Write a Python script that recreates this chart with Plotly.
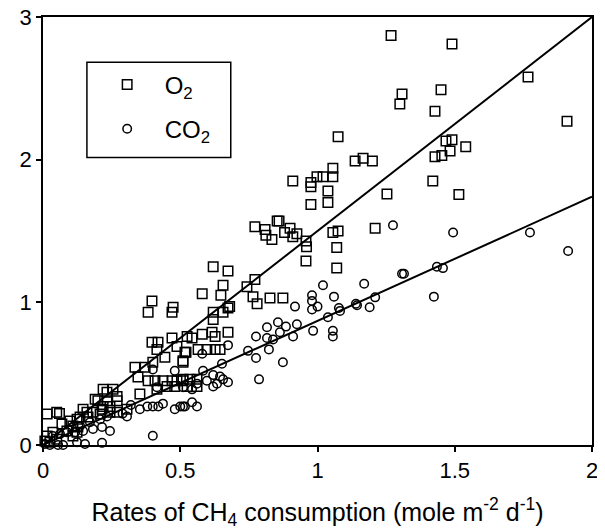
import plotly.graph_objects as go

# O2 (squares): x = CH4 consumption, y = O2 rate
o2_x = [1.268, 1.308, 1.30, 1.45, 1.428, 1.49, 1.767, 1.909,
        1.075, 1.137, 1.166, 1.20, 1.428, 1.468, 1.49, 1.54, 1.483, 1.453,
        1.42, 1.515,
        0.91, 0.976, 0.998, 1.02, 1.056, 1.056, 0.976, 1.038, 1.253,
        0.976, 1.038, 0.772, 0.853, 0.86, 0.809, 0.812, 0.834, 0.88, 0.90, 0.91, 0.925, 0.958, 0.96,
        1.056, 1.075, 1.21, 1.07, 0.958, 1.07,
        0.772, 0.743, 0.765, 0.78, 0.827, 0.874,
        0.62, 0.674, 0.656, 0.58, 0.648, 0.397, 0.474, 0.68, 0.383, 0.47,
        0.674, 0.62, 0.62, 0.656,
        0.58, 0.616, 0.627, 0.674, 0.543, 0.517, 0.565, 0.597, 0.627, 0.645, 0.51, 0.51, 0.535, 0.561, 0.561,
        0.397, 0.419, 0.415, 0.47, 0.444, 0.488, 0.521, 0.51, 0.525,
        0.335, 0.346, 0.372, 0.40,
        0.383, 0.408, 0.437, 0.47, 0.488, 0.51, 0.525, 0.415, 0.452, 0.48,
        0.353, 0.219, 0.233, 0.27, 0.255,
        0.19, 0.20, 0.233, 0.27, 0.219, 0.244,
        0.146, 0.16, 0.135, 0.164, 0.182, 0.208, 0.215, 0.244, 0.27, 0.306,
        0.015, 0.05, 0.06,
        0.069, 0.098, 0.109, 0.124, 0.127,
        0.015, 0.036, 0.05, 0.007, 0.025, 0.087, 0.109, 0.124]
o2_y = [2.87, 2.46, 2.39, 2.49, 2.34, 2.81, 2.58, 2.27,
        2.16, 1.99, 2.01, 1.99, 2.02, 2.13, 2.14, 2.09, 2.06, 2.03,
        1.85, 1.755,
        1.85, 1.84, 1.88, 1.88, 1.94, 1.88, 1.81, 1.78, 1.76,
        1.685, 1.70, 1.53, 1.57, 1.57, 1.51, 1.47, 1.44, 1.49, 1.52, 1.46, 1.48, 1.43, 1.39,
        1.49, 1.50, 1.52, 1.385, 1.29, 1.24,
        1.16, 1.11, 1.04, 0.99, 1.03, 1.03,
        1.25, 1.22, 1.12, 1.06, 1.05, 1.01, 0.965, 0.97, 0.93, 0.93,
        0.96, 0.93, 0.88, 0.93,
        0.776, 0.79, 0.76, 0.79, 0.75, 0.65, 0.67, 0.67, 0.67, 0.67, 0.58, 0.46, 0.46, 0.46, 0.41,
        0.72, 0.72, 0.67, 0.75, 0.615, 0.69, 0.65, 0.59, 0.76,
        0.545, 0.476, 0.545, 0.58,
        0.45, 0.45, 0.45, 0.45, 0.45, 0.45, 0.41, 0.39, 0.41, 0.41,
        0.357, 0.39, 0.37, 0.34, 0.39,
        0.32, 0.31, 0.31, 0.31, 0.27, 0.27,
        0.25, 0.23, 0.196, 0.196, 0.23, 0.217, 0.25, 0.23, 0.23, 0.25,
        0.217, 0.23, 0.22,
        0.147, 0.168, 0.133, 0.18, 0.126,
        0.063, 0.09, 0.04, 0.028, 0.02, 0.098, 0.063, 0.09]

# CO2 (circles)
co2_x = [1.494, 1.774, 1.913, 1.435, 1.457, 1.424,
         1.275, 1.308, 1.315, 1.02, 1.17, 1.06, 1.21, 0.98, 0.98, 0.918, 1.0, 1.078, 1.14, 1.19,
         0.98, 1.038, 1.082, 1.144, 1.056, 1.056,
         0.816, 0.856, 0.885, 0.925, 0.776, 0.816, 0.838, 0.863, 0.911, 0.984, 0.747, 0.823, 0.776,
         0.874, 0.787, 0.674, 0.652, 0.583, 0.62, 0.645, 0.656, 0.674, 0.62, 0.634, 0.597, 0.561,
         0.543, 0.51, 0.543, 0.561, 0.51, 0.58,
         0.40, 0.215,
         0.153, 0.124, 0.073, 0.055, 0.025, 0.007,
         0.244, 0.215, 0.182, 0.146, 0.117, 0.087, 0.062, 0.036,
         0.353, 0.38, 0.40, 0.42, 0.437, 0.48, 0.50, 0.517, 0.48, 0.40, 0.415, 0.306,
         0.233, 0.208, 0.171, 0.135, 0.29, 0.32]
co2_y = [1.49, 1.49, 1.36, 1.25, 1.24, 1.04,
         1.54, 1.20, 1.20, 1.12, 1.13, 1.04, 1.035, 1.05, 1.01, 0.97, 0.97, 0.96, 0.99, 0.965,
         0.95, 0.895, 0.94, 0.98, 0.80, 0.76,
         0.825, 0.86, 0.83, 0.846, 0.76, 0.75, 0.74, 0.79, 0.76, 0.80, 0.66, 0.67, 0.61,
         0.58, 0.46, 0.70, 0.57, 0.52, 0.49, 0.48, 0.46, 0.44, 0.41, 0.43, 0.45, 0.43,
         0.39, 0.405, 0.30, 0.27, 0.27, 0.64,
         0.065, 0.015,
         0.007, 0.02, 0.0, 0.0, 0.0, 0.007,
         0.098, 0.126, 0.112, 0.098, 0.09, 0.09, 0.077, 0.063,
         0.25, 0.27, 0.27, 0.27, 0.29, 0.25, 0.27, 0.27, 0.52, 0.53, 0.405, 0.20,
         0.20, 0.18, 0.16, 0.133, 0.22, 0.28]

# Fitted regression lines (end points)
fit_x = [0.0, 2.0]
o2_fit = [0.0, 3.0]
co2_fit = [0.0, 1.74]

FONT = "Liberation Sans, Arial, Helvetica, sans-serif"

fig = go.Figure()
fig.add_trace(go.Scatter(x=fit_x, y=o2_fit, mode="lines",
                         line=dict(color="black", width=2), showlegend=False))
fig.add_trace(go.Scatter(x=fit_x, y=co2_fit, mode="lines",
                         line=dict(color="black", width=2), showlegend=False))
fig.add_trace(go.Scatter(x=o2_x, y=o2_y, mode="markers", name="O<sub>2</sub>",
                         legendgroup="o2",
                         marker=dict(symbol="square-open", size=9.5, color="black",
                                     line=dict(width=1.5, color="black")),
                         cliponaxis=False))
fig.add_trace(go.Scatter(x=co2_x, y=co2_y, mode="markers", name="CO<sub>2</sub>",
                         legendgroup="co2",
                         marker=dict(symbol="circle-open", size=8.5, color="black",
                                     line=dict(width=1.5, color="black")),
                         cliponaxis=False))

axis_common = dict(showgrid=False, zeroline=False, showline=True, linecolor="black",
                   linewidth=1.5, mirror=True, ticks="outside", ticklen=5,
                   tickwidth=1.5, tickcolor="black", automargin=False,
                   ticklabeloverflow="allow",
                   tickfont=dict(family=FONT, size=22, color="black"))

fig.update_layout(
    width=597, height=522,
    margin=dict(l=35, r=13, t=9, b=85),
    paper_bgcolor="white", plot_bgcolor="white",
    font=dict(family=FONT, size=22, color="black"),
    xaxis=dict(range=[0, 2], tickvals=[0, 0.5, 1, 1.5, 2],
               ticktext=["0", "0.5", "1", "1.5", "2"],
               title=dict(text="Rates of CH<sub>4</sub> consumption (mole m<sup>-2</sup> d<sup>-1</sup>)",
                          font=dict(family=FONT, size=25, color="black"), standoff=25),
               **axis_common),
    yaxis=dict(range=[0, 3], tickvals=[0, 1, 2, 3], ticktext=["0", "1", "2", "3"],
               **axis_common),
    legend=dict(x=0.085, y=0.894, xanchor="left", yanchor="top",
                borderwidth=0, bgcolor="rgba(0,0,0,0)",
                font=dict(family=FONT, size=24, color="black"),
                itemwidth=65, tracegroupgap=10),
    showlegend=True,
    shapes=[dict(type="rect", xref="paper", yref="paper",
                 x0=0.080, x1=0.342, y0=0.672, y1=0.894,
                 line=dict(color="black", width=1.5), fillcolor="rgba(0,0,0,0)",
                 layer="above")],
)

fig.write_html("out.html")
